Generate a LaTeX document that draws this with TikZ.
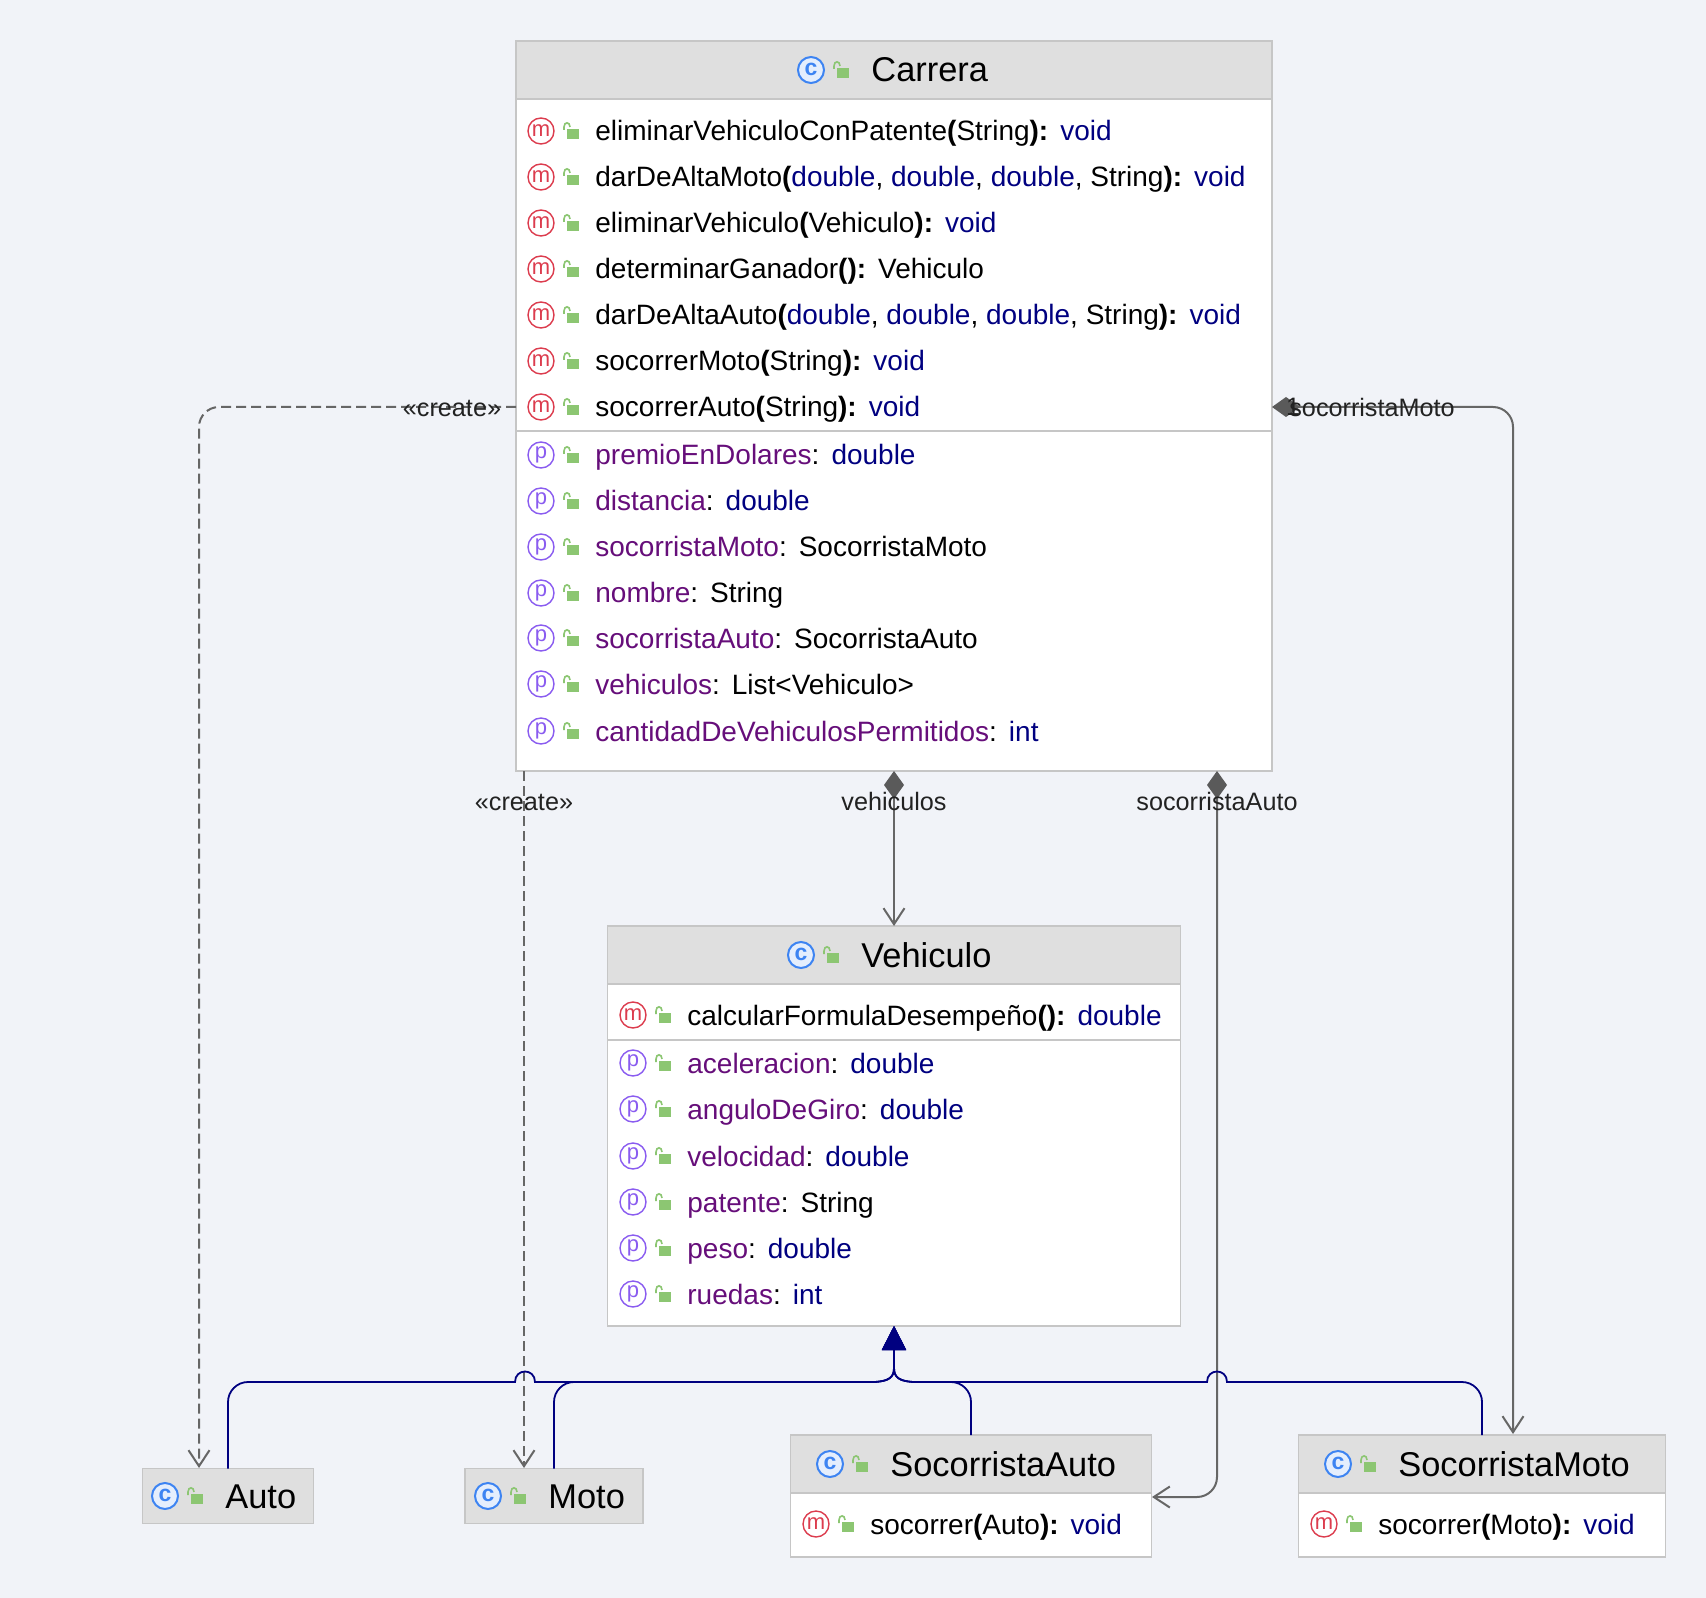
\documentclass[tikz,border=0pt]{standalone}
\usepackage{fontspec}
\setmainfont{Liberation Sans}
\usetikzlibrary{arrows.meta}

\definecolor{bgpage}{HTML}{F1F3F8}
\definecolor{headgray}{HTML}{DFDFDF}
\definecolor{boxline}{HTML}{C6C6C6}
\definecolor{mred}{HTML}{DC3C4E}
\definecolor{cblue}{HTML}{3D84F2}
\definecolor{ppurple}{HTML}{8A5CF0}
\definecolor{lockgreen}{HTML}{8CC672}
\definecolor{typenavy}{HTML}{000080}
\definecolor{namepurple}{HTML}{660E7A}
\definecolor{linegray}{HTML}{666666}
\definecolor{tipgray}{HTML}{5A5A5A}
\definecolor{labelblack}{HTML}{222222}

\newcommand{\ty}[1]{\textcolor{typenavy}{#1}}
\newcommand{\pn}[1]{\textcolor{namepurple}{#1}}
\newcommand{\pb}[1]{\textbf{#1}}
\newcommand{\gapsep}{\hspace{6pt}}
% name, left edge, y, kind (m or p), text
\newcommand{\classrow}[5]{
	\node[#4icon] (#1icon) at ({#2+25},#3) {#4};
	\pic at ({#2+55},#3) {lockicon};
	\node[rowtext] (#1text) at ({#2+79},{#3+10}) {#5};
}
% name, icon x, y, title
\newcommand{\classhead}[4]{
	\node[cicon] (#1icon) at (#2,#3) {c};
	\pic at ({#2+30},#3) {lockicon};
	\node[titletext] (#1title) at ({#2+60},{#3+12}) {#4};
}

\tikzset{
	lockicon/.pic={
		\fill[lockgreen] (-4,-2) rectangle (8,8);
		\draw[lockgreen,line width=0.8pt] (-7,-1) -- (-7,-4) .. controls (-7,-9.5) and (-1,-9.5) .. (-1,-4);
	}
}

\begin{document}
\begin{tikzpicture}[x=0.5pt,y=-0.5pt,
		classbox/.style={draw=boxline,fill=white,line width=0.7pt,outer sep=0pt,inner sep=0pt},
		headbox/.style={draw=boxline,fill=headgray,line width=0.7pt,outer sep=0pt,inner sep=0pt},
		micon/.style={circle,draw=mred,text=mred,line width=0.7pt,minimum size=13pt,inner sep=0pt,text height=5.5pt,text depth=0pt,font=\fontsize{11}{11}\selectfont},
		picon/.style={circle,draw=ppurple,text=ppurple,line width=0.7pt,minimum size=13pt,inner sep=0pt,text height=5.5pt,text depth=2pt,font=\fontsize{11}{11}\selectfont},
		cicon/.style={circle,draw=cblue,fill=cblue!14,text=cblue,line width=1pt,minimum size=13pt,inner sep=0pt,text height=5.5pt,text depth=0pt,font=\fontsize{11.5}{11}\selectfont\bfseries},
		rowtext/.style={anchor=base west,inner sep=0pt,font=\fontsize{14}{16}\selectfont},
		titletext/.style={anchor=base west,inner sep=0pt,font=\fontsize{17.2}{18}\selectfont},
		linklabel/.style={text=labelblack,inner sep=0pt,font=\fontsize{12.6}{14}\selectfont},
		createline/.style={draw=linegray,line width=1pt,dash pattern=on 5pt off 2.5pt,-{Straight Barb[length=8pt,width=10.5pt]}},
		ownline/.style={draw=linegray,line width=1pt,{Diamond[length=14pt,width=10pt,fill=tipgray,color=tipgray]}-{Straight Barb[length=8pt,width=10.5pt]}},
		inheritline/.style={draw=typenavy,line width=0.9pt,-{Triangle[length=12pt,width=12pt,fill=typenavy]}}
	]
	\fill[bgpage] (0,0) rectangle (1706,1598);

	% Carrera
	\node[classbox,minimum width=378pt,minimum height=365pt] (carrera) at (894,406) {};
	\node[headbox,minimum width=378pt,minimum height=29pt] (carreraHead) at (894,70) {};
	\classhead{carrera}{811}{70}{Carrera}
	\classrow{carreraM1}{516}{131}{m}{eliminarVehiculoConPatente\pb{(}String\pb{):}\gapsep\ty{void}}
	\classrow{carreraM2}{516}{177}{m}{darDeAltaMoto\pb{(}\ty{double}, \ty{double}, \ty{double}, String\pb{):}\gapsep\ty{void}}
	\classrow{carreraM3}{516}{223}{m}{eliminarVehiculo\pb{(}Vehiculo\pb{):}\gapsep\ty{void}}
	\classrow{carreraM4}{516}{269}{m}{determinarGanador\pb{():}\gapsep Vehiculo}
	\classrow{carreraM5}{516}{315}{m}{darDeAltaAuto\pb{(}\ty{double}, \ty{double}, \ty{double}, String\pb{):}\gapsep\ty{void}}
	\classrow{carreraM6}{516}{361}{m}{socorrerMoto\pb{(}String\pb{):}\gapsep\ty{void}}
	\classrow{carreraM7}{516}{407}{m}{socorrerAuto\pb{(}String\pb{):}\gapsep\ty{void}}
	\draw[boxline,line width=0.7pt] (516,431) -- (1272,431);
	\classrow{carreraP1}{516}{455}{p}{\pn{premioEnDolares}:\gapsep\ty{double}}
	\classrow{carreraP2}{516}{501}{p}{\pn{distancia}:\gapsep\ty{double}}
	\classrow{carreraP3}{516}{547}{p}{\pn{socorristaMoto}:\gapsep SocorristaMoto}
	\classrow{carreraP4}{516}{593}{p}{\pn{nombre}:\gapsep String}
	\classrow{carreraP5}{516}{638}{p}{\pn{socorristaAuto}:\gapsep SocorristaAuto}
	\classrow{carreraP6}{516}{684}{p}{\pn{vehiculos}:\gapsep List<Vehiculo>}
	\classrow{carreraP7}{516}{731}{p}{\pn{cantidadDeVehiculosPermitidos}:\gapsep\ty{int}}

	% Vehiculo
	\node[classbox,minimum width=286.5pt,minimum height=200pt] (vehiculo) at (894,1126) {};
	\node[headbox,minimum width=286.5pt,minimum height=29pt] (vehiculoHead) at (894,955) {};
	\classhead{vehiculo}{801}{955}{Vehiculo}
	\classrow{vehiculoM1}{608}{1015}{m}{calcularFormulaDesempeño\pb{():}\gapsep\ty{double}}
	\draw[boxline,line width=0.7pt] (607,1040) -- (1181,1040);
	\classrow{vehiculoP1}{608}{1063}{p}{\pn{aceleracion}:\gapsep\ty{double}}
	\classrow{vehiculoP2}{608}{1109}{p}{\pn{anguloDeGiro}:\gapsep\ty{double}}
	\classrow{vehiculoP3}{608}{1156}{p}{\pn{velocidad}:\gapsep\ty{double}}
	\classrow{vehiculoP4}{608}{1202}{p}{\pn{patente}:\gapsep String}
	\classrow{vehiculoP5}{608}{1248}{p}{\pn{peso}:\gapsep\ty{double}}
	\classrow{vehiculoP6}{608}{1294}{p}{\pn{ruedas}:\gapsep\ty{int}}

	% subclasses
	\node[headbox,minimum width=85.5pt,minimum height=27.5pt] (auto) at (228,1496) {};
	\classhead{auto}{165}{1496}{Auto}
	\node[headbox,minimum width=89pt,minimum height=27.5pt] (moto) at (554,1496) {};
	\classhead{moto}{488}{1496}{Moto}

	\node[classbox,minimum width=180.5pt,minimum height=61pt] (socAuto) at (971,1496) {};
	\node[headbox,minimum width=180.5pt,minimum height=29pt] (socAutoHead) at (971,1464) {};
	\classhead{socAuto}{830}{1464}{SocorristaAuto}
	\classrow{socAutoM1}{791}{1524}{m}{socorrer\pb{(}Auto\pb{):}\gapsep\ty{void}}

	\node[classbox,minimum width=183.5pt,minimum height=61pt] (socMoto) at (1482,1496) {};
	\node[headbox,minimum width=183.5pt,minimum height=29pt] (socMotoHead) at (1482,1464) {};
	\classhead{socMoto}{1338}{1464}{SocorristaMoto}
	\classrow{socMotoM1}{1299}{1524}{m}{socorrer\pb{(}Moto\pb{):}\gapsep\ty{void}}

	% free ends of the connectors
	\coordinate (createAuto) at (199,1468);
	\coordinate (createMotoTop) at (524,771);
	\coordinate (createMoto) at (524,1468);
	\coordinate (ownAutoTop) at (1217,771);
	\coordinate (ownAutoEnd) at (1152,1497);
	\coordinate (ownMotoEnd) at (1513,1434);

	% create
	\draw[createline,rounded corners=10pt] (carrera.west |- carreraM7icon) -| (createAuto);
	\draw[createline] (createMotoTop) -- (createMoto);

	% owned fields
	\draw[ownline] (carrera.south) -- (vehiculo.north);
	\draw[ownline,rounded corners=10pt] (ownAutoTop) |- (ownAutoEnd);
	\draw[ownline,rounded corners=10pt] (carrera.east |- carreraM7icon) -| (ownMotoEnd);

	% extends, two of them hop over a crossing line
	\draw[inheritline] (auto.north) -- (228,1402) .. controls (228,1391) and (237,1382) .. (248,1382)
		-- (515,1382) .. controls (515,1368) and (535,1368) .. (535,1382) -- (875,1382)
		.. controls (888,1381) and (894,1378) .. (894,1368) -- (vehiculo.south);
	\draw[inheritline] (moto.north) -- (554,1402) .. controls (554,1391) and (563,1382) .. (574,1382)
		-- (875,1382) .. controls (888,1381) and (894,1378) .. (894,1368) -- (vehiculo.south);
	\draw[inheritline] (socAuto.north) -- (971,1402) .. controls (971,1391) and (962,1382) .. (951,1382)
		-- (913,1382) .. controls (900,1381) and (894,1378) .. (894,1368) -- (vehiculo.south);
	\draw[inheritline] (socMoto.north) -- (1482,1402) .. controls (1482,1391) and (1473,1382) .. (1462,1382)
		-- (1227,1382) .. controls (1227,1368) and (1207,1368) .. (1207,1382) -- (913,1382)
		.. controls (900,1381) and (894,1378) .. (894,1368) -- (vehiculo.south);

	% labels
	\node[linklabel] (createLabelA) at (452,408) {«create»};
	\node[linklabel] (createLabelB) at (524,802) {«create»};
	\node[linklabel] (vehiculosLabel) at (894,801) {vehiculos};
	\node[linklabel] (socAutoLabel) at (1217,801) {socorristaAuto};
	\node[linklabel] (socMotoLabel) at (1372,407) {socorristaMoto};
	\node[linklabel] (socMotoMult) at (1293,407) {1};
\end{tikzpicture}
\end{document}
